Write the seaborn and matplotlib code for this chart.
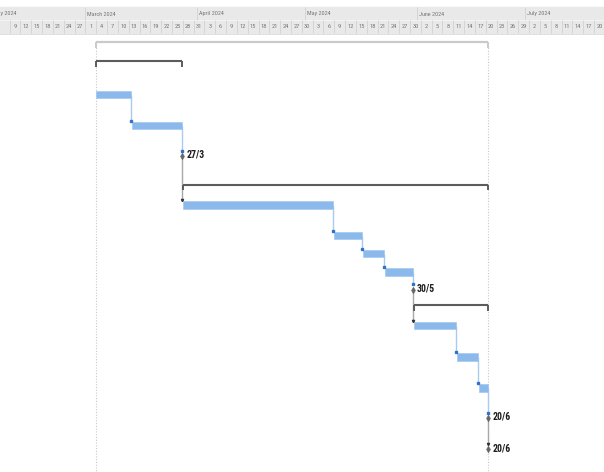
import numpy as np
import pandas as pd
import matplotlib
matplotlib.use("Agg")
import matplotlib.pyplot as plt
import matplotlib.dates as mdates
from matplotlib import font_manager
import seaborn as sns

# ---------------- data ----------------
task_names = ["Project", "Phase 1", "Task 1.1", "Task 1.2", "Milestone 1",
              "Phase 2", "Task 2.1", "Task 2.2", "Task 2.3", "Task 2.4", "Milestone 2",
              "Phase 3", "Task 3.1", "Task 3.2", "Task 3.3", "Milestone 3", "Project end"]
task_types = ["project", "summary", "task", "task", "milestone",
              "summary", "task", "task", "task", "task", "milestone",
              "summary", "task", "task", "task", "milestone", "milestone"]
starts = ["2024-03-04", "2024-03-04", "2024-03-04", "2024-03-14", "2024-03-27",
          "2024-03-28", "2024-03-28", "2024-05-09", "2024-05-17", "2024-05-23", "2024-05-30",
          "2024-05-31", "2024-05-31", "2024-06-12", "2024-06-18", "2024-06-20", "2024-06-20"]
finishes = ["2024-06-20", "2024-03-27", "2024-03-13", "2024-03-27", "2024-03-27",
            "2024-06-20", "2024-05-08", "2024-05-16", "2024-05-22", "2024-05-30", "2024-05-30",
            "2024-06-20", "2024-06-11", "2024-06-17", "2024-06-20", "2024-06-20", "2024-06-20"]
milestone_labels = {4: "27/3", 10: "30/5", 15: "20/6", 16: "20/6"}
links = [(2, 3), (3, 4), (4, 6), (6, 7), (7, 8), (8, 9), (9, 10),
         (10, 12), (12, 13), (13, 14), (14, 15), (15, 16)]
month_names = ["February 2024", "March 2024", "April 2024", "May 2024", "June 2024", "July 2024"]
month_starts = ["2024-02-01", "2024-03-01", "2024-04-01", "2024-05-01", "2024-06-01", "2024-07-01"]

# ---------------- layout ----------------
row_y = [42, 61, 94.5, 125.5, 155, 184.5, 205, 235.5, 253.5, 272, 288.5,
         305, 325.5, 357, 388, 417, 448]

sns.set_theme(style="white")
avail = {f.name for f in font_manager.fontManager.ttflist}
narrow = next((f for f in ["Liberation Sans Narrow", "Roboto Condensed", "Roboto", "Liberation Sans"]
               if f in avail), "DejaVu Sans")
plt.rcParams["font.family"] = [narrow, "DejaVu Sans"]

df = pd.DataFrame({"name": task_names, "type": task_types,
                   "start": pd.to_datetime(starts),
                   "finish": pd.to_datetime(finishes) + pd.Timedelta(hours=17),
                   "y": row_y})
df["s"] = mdates.date2num(df["start"])
df["f"] = mdates.date2num(df["finish"])

fig = plt.figure(figsize=(6.04, 4.72), dpi=100)
ax = fig.add_axes([0, 0, 1, 1])
ref = mdates.date2num(pd.Timestamp("2024-03-01"))
ppd = 3.607
x0 = 85.4
xmin, xmax = ref - x0 / ppd, ref + (604 - x0) / ppd
ax.set_xlim(xmin, xmax)
ax.set_ylim(472, 0)
ax.axis("off")

# ---------------- header ----------------
ax.axhspan(7, 33, color="#e9e9e9", zorder=0)
ax.axhline(20, color="#f6f6f6", lw=0.6, zorder=1)
ax.axhline(33.5, color="#dcdcdc", lw=0.6, zorder=1)
for nm, ms in zip(month_names, month_starts):
    mx = mdates.date2num(pd.Timestamp(ms))
    ax.vlines(mx, 7, 20, color="#d2d2d2", lw=0.6, zorder=1)
    ax.text(mx + 0.45, 14, nm, fontsize=4.4, color="#777777", va="center", ha="left",
            clip_on=True, zorder=2)
day_ticks = pd.date_range(pd.Timestamp("2024-03-01") - pd.Timedelta(days=27),
                          pd.Timestamp("2024-07-28"), freq="3D")
for d in day_ticks:
    dx = mdates.date2num(d)
    ax.vlines(dx, 20, 33, color="#d2d2d2", lw=0.6, zorder=1)
    if dx < xmin or dx + 1.5 > xmax:
        continue
    ax.text(dx + 1.5, 26.5, str(d.day), fontsize=4.6, color="#777777",
            va="center", ha="center", clip_on=True, zorder=2)

# ---------------- project start / finish lines ----------------
proj = df.iloc[0]
ax.vlines([proj.s, proj.f], proj.y, 472, color="#c8c8c8", lw=0.8,
          linestyles=(0, (1, 1.5)), zorder=1)
ax.hlines(proj.y, proj.s, proj.f, color="#cacaca", lw=1.6, zorder=2)
ax.vlines([proj.s, proj.f], proj.y, proj.y + 6, color="#cacaca", lw=1.4, zorder=2)

# ---------------- links ----------------
bar_h = 7.2
for a, b in links:
    ra, rb = df.iloc[a], df.iloc[b]
    xa = ra.f
    if ra.type == "task":
        y1 = ra.y
        col, acol, amark = "#a8cbf0", "#2f73c8", "s"
    else:
        y1 = ra.y + 2
        col, acol, amark = "#a8a8a8", "#333333", "v"
    y2 = rb.y - (bar_h / 2 + 0.6 if rb.type == "task" else 3.5)
    ax.vlines(xa, y1, y2, color=col, lw=1.0, zorder=2)
    ax.plot([xa], [y2 - 0.8], marker=amark, ms=1.6, color=acol, mec=acol, zorder=4)

# ---------------- summaries ----------------
summ = df[df.type == "summary"]
ax.hlines(summ.y, summ.s, summ.f, color="#5c5c5c", lw=1.5, zorder=3)
for _, r in summ.iterrows():
    ax.vlines([r.s, r.f], r.y, r.y + 5.5, color="#5c5c5c", lw=1.4, zorder=3)

# ---------------- tasks ----------------
tasks = df[df.type == "task"]
ax.barh(tasks.y, tasks.f - tasks.s, left=tasks.s, height=bar_h,
        color="#8bb9eb", edgecolor="#9cc4ef", linewidth=0.4, zorder=3)

# ---------------- milestones ----------------
mst = df[df.type == "milestone"]
sns.scatterplot(x=mst.f, y=mst.y + 1, marker="d", s=12, color="#666666",
                edgecolor="#666666", linewidth=0.3, ax=ax, zorder=5, legend=False)
for idx, lab in milestone_labels.items():
    r = df.iloc[idx]
    ax.annotate(lab, (r.f, r.y), xytext=(3.2, 0), textcoords="offset points",
                fontsize=7, fontweight="bold", color="#1c1c1c", va="center", ha="left",
                zorder=6)

ax.set_xlabel("")
ax.set_ylabel("")
fig.savefig("out.png", dpi=100)
